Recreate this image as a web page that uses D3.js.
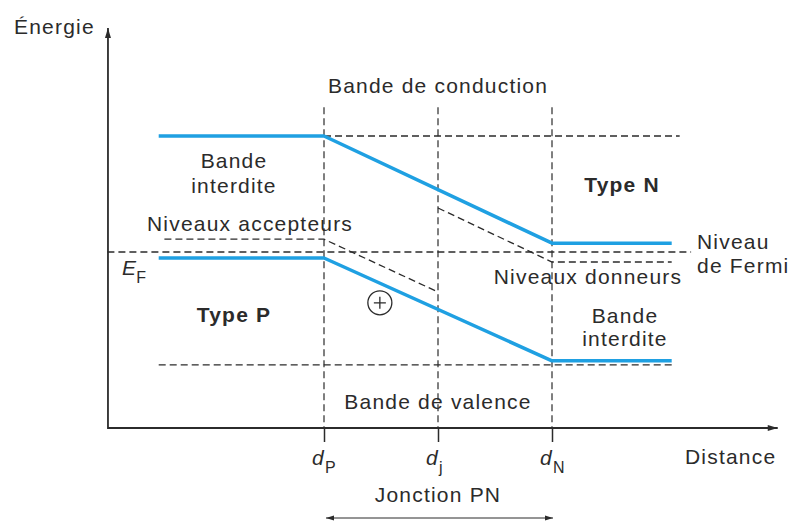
<!DOCTYPE html>
<html>
<head>
<meta charset="utf-8">
<script src="https://cdn.jsdelivr.net/npm/d3@7"></script>
<style>
	body { margin: 0; background: #fff; }
	svg text { font-family: 'Liberation Sans', Arial, sans-serif; fill: #2b2b2b; letter-spacing: 1.2px; }
</style>
</head>
<body>
<script>
// distance: d_P = 0, d_j = 1, d_N = 2 ; energy in arbitrary units (0 = distance axis)
var junctionX = [0, 1, 2];
var junctionSub = ['P', 'j', 'N'];

var bandX = [-1.45, 0, 2, 3.05];
var conductionEdge = [7.3, 7.3, 4.62, 4.62];
var valenceEdge = [4.25, 4.25, 1.68, 1.68];

var acceptorX = [-1.4, 0, 1];
var acceptorLevel = [4.72, 4.72, 3.4];
var donorX = [1, 2, 3.05];
var donorLevel = [5.5, 4.15, 4.15];

var fermiX = [-1.9, 3.22];
var fermiLevel = [4.4, 4.4];
var conductionRefX = [0, 3.12];
var conductionRef = [7.3, 7.3];
var valenceRefX = [-1.45, 3.05];
var valenceRef = [1.58, 1.58];

var guideTop = 8.02;
var holePos = [0.49, 3.13];

var width = 791, height = 522;
var blue = '#1fa0e2', ink = '#2b2b2b';

var svg = d3.select('body').append('svg')
	.attr('width', width)
	.attr('height', height);

var x = d3.scaleLinear().domain([0, 2]).range([324, 552]);
var y = d3.scaleLinear().domain([0, 10]).range([428, 28]);

var defs = svg.append('defs');
defs.append('marker')
	.attr('id', 'arrowBig')
	.attr('viewBox', '0 0 10 10')
	.attr('refX', 10).attr('refY', 5)
	.attr('markerWidth', 11).attr('markerHeight', 10)
	.attr('markerUnits', 'userSpaceOnUse')
	.attr('orient', 'auto-start-reverse')
	.append('path').attr('d', 'M0,2 L10,5 L0,8 Z').attr('fill', ink);
defs.append('marker')
	.attr('id', 'arrowSmall')
	.attr('viewBox', '0 0 10 10')
	.attr('refX', 10).attr('refY', 5)
	.attr('markerWidth', 8).attr('markerHeight', 8)
	.attr('markerUnits', 'userSpaceOnUse')
	.attr('orient', 'auto-start-reverse')
	.append('path').attr('d', 'M0,2 L10,5 L0,8 Z').attr('fill', ink);

var line = d3.line()
	.x(function (d) { return x(d[0]); })
	.y(function (d) { return y(d[1]); });

function zip(xs, ys) {
	return xs.map(function (v, i) { return [v, ys[i]]; });
}

// vertical guides at d_P, d_j, d_N
svg.append('g').selectAll('line').data(junctionX).enter().append('line')
	.attr('x1', function (d) { return x(d); })
	.attr('x2', function (d) { return x(d); })
	.attr('y1', y(guideTop))
	.attr('y2', y(0))
	.attr('stroke', ink).attr('stroke-width', 1.2)
	.attr('stroke-dasharray', '7,4');

// dashed reference levels
var dashed = [
	zip(fermiX, fermiLevel),
	zip(conductionRefX, conductionRef),
	zip(valenceRefX, valenceRef),
	zip(acceptorX, acceptorLevel),
	zip(donorX, donorLevel)
];
svg.append('g').selectAll('path').data(dashed).enter().append('path')
	.attr('d', line)
	.attr('fill', 'none')
	.attr('stroke', ink).attr('stroke-width', 1.3)
	.attr('stroke-dasharray', '7,4');

// band edges
svg.append('g').selectAll('path').data([zip(bandX, conductionEdge), zip(bandX, valenceEdge)]).enter().append('path')
	.attr('d', line)
	.attr('fill', 'none')
	.attr('stroke', blue).attr('stroke-width', 3.5)
	.attr('stroke-linejoin', 'round');

// axes
var xAxis = d3.axisBottom(x).tickValues(junctionX).tickSize(14).tickFormat('');
var xAxisEl = svg.append('g').attr('transform', 'translate(0,' + y(0) + ')').call(xAxis);
xAxisEl.select('.domain').remove();
xAxisEl.selectAll('line').attr('stroke', ink).attr('stroke-width', 1.5);

svg.append('line')
	.attr('x1', x(-1.895)).attr('y1', y(0))
	.attr('x2', x(3.98)).attr('y2', y(0))
	.attr('stroke', ink).attr('stroke-width', 1.8)
	.attr('marker-end', 'url(#arrowBig)');
svg.append('line')
	.attr('x1', x(-1.895)).attr('y1', y(0) + 1)
	.attr('x2', x(-1.895)).attr('y2', y(10))
	.attr('stroke', ink).attr('stroke-width', 1.8)
	.attr('marker-end', 'url(#arrowBig)');

// junction width arrow
svg.append('line')
	.attr('x1', x(0) + 2).attr('y1', 518)
	.attr('x2', x(2) + 1).attr('y2', 518)
	.attr('stroke', ink).attr('stroke-width', 1)
	.attr('marker-start', 'url(#arrowSmall)')
	.attr('marker-end', 'url(#arrowSmall)');

// hole symbol
var hole = svg.append('g').attr('transform', 'translate(' + x(holePos[0]) + ',' + y(holePos[1]) + ')');
hole.append('circle').attr('r', 12).attr('fill', 'none').attr('stroke', ink).attr('stroke-width', 1.3);
hole.append('path').attr('d', 'M-6,0 H6 M0,-6 V6').attr('stroke', ink).attr('stroke-width', 1.3);

// labels
function label(tx, ty, txt, anchor, weight) {
	return svg.append('text')
		.attr('x', tx).attr('y', ty)
		.attr('text-anchor', anchor || 'start')
		.attr('font-size', 21)
		.attr('font-weight', weight || 'normal')
		.text(txt);
}

label(14, 34, 'Énergie');
label(x(1), 93, 'Bande de conduction', 'middle');
label(234, 168, 'Bande', 'middle');
label(234, 193, 'interdite', 'middle');
label(147, 231, 'Niveaux accepteurs');
label(234, 322, 'Type P', 'middle', 'bold');
label(622, 192, 'Type N', 'middle', 'bold');
label(697, 249, 'Niveau');
label(697, 273, 'de Fermi');
label(588, 284, 'Niveaux donneurs', 'middle');
label(625, 323, 'Bande', 'middle');
label(625, 346, 'interdite', 'middle');
label(x(1), 409, 'Bande de valence', 'middle');
label(685, 464, 'Distance');
label(x(1), 502, 'Jonction PN', 'middle');

// E_F
var ef = svg.append('text').attr('x', 122).attr('y', 275).attr('font-size', 21);
ef.append('tspan').attr('font-style', 'italic').text('E');
ef.append('tspan').attr('font-size', 16).attr('dx', -1).attr('dy', 8).text('F');

// d_P, d_j, d_N
var dLabels = svg.append('g').selectAll('text').data(junctionX).enter().append('text')
	.attr('x', function (d) { return x(d) - 12; })
	.attr('y', 465)
	.attr('font-size', 21);
dLabels.append('tspan').attr('font-style', 'italic').text('d');
dLabels.append('tspan').attr('font-size', 16).attr('dy', 8)
	.text(function (d, i) { return junctionSub[i]; });
</script>
</body>
</html>
